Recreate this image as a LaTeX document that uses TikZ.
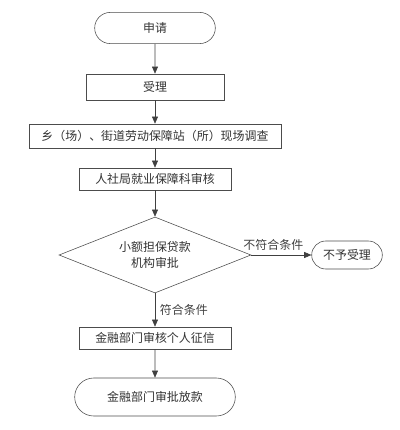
\documentclass[tikz,border=0pt]{standalone}
\usepackage{fontspec}
\setmainfont{Noto Sans CJK SC}
\usepackage{tikz}
\usetikzlibrary{arrows.meta,shapes.geometric,shapes.misc}

\begin{document}
\begin{tikzpicture}[
		font=\fontsize{8.5pt}{11pt}\selectfont,
		text=black!80,
		term/.style={draw=black!70, rounded rectangle, minimum height=0.78cm, align=center},
		box/.style={draw=black!70, minimum height=0.6cm, inner sep=1pt, align=center},
		check/.style={draw=black!70, diamond, aspect=2.5, minimum width=4.8cm, minimum height=1.9cm, inner sep=0pt, align=center},
		flow/.style={-{Triangle[length=1.8mm, width=1.5mm]}, black!75},
		item/.style={font=\fontsize{8.5pt}{11pt}\selectfont, align=center}]
		\useasboundingbox (0,0) rectangle (10,-10.75);

		\node[term, minimum width=3.25cm] (apply) at (3.875,-0.7) {申请};
		\node[box, minimum width=3.45cm, minimum height=0.65cm] (accept) at (3.875,-2.175) {受理};
		\node[box, minimum width=6.3cm] (survey) at (3.875,-3.4) {乡（场）、街道劳动保障站（所）现场调查};
		\node[box, minimum width=3.8cm, minimum height=0.55cm] (review) at (3.875,-4.475) {人社局就业保障科审核};
		\node[check] (approve) at (3.875,-6.375) {小额担保贷款\\机构审批};
		\node[term, minimum width=2.0cm, minimum height=0.7cm] (reject) at (8.675,-6.375) {不予受理};
		\node[box, minimum width=3.8cm, minimum height=0.55cm] (credit) at (3.875,-8.45) {金融部门审核个人征信};
		\node[term, minimum width=4.25cm, minimum height=0.95cm] (loan) at (3.875,-9.925) {金融部门审批放款};

		\draw[flow] (apply) -- (accept);
		\draw[flow] (accept) -- (survey);
		\draw[flow] (survey) -- (review);
		\draw[flow] (review) -- (approve);
		\draw[flow] (approve.east) -- node[above, item, xshift=-2mm] {不符合条件} (reject.west);
		\draw[flow] (approve.south) -- node[right, item] {符合条件} (credit.north);
		\draw[flow] (credit) -- (loan);
	\end{tikzpicture}
\end{document}
